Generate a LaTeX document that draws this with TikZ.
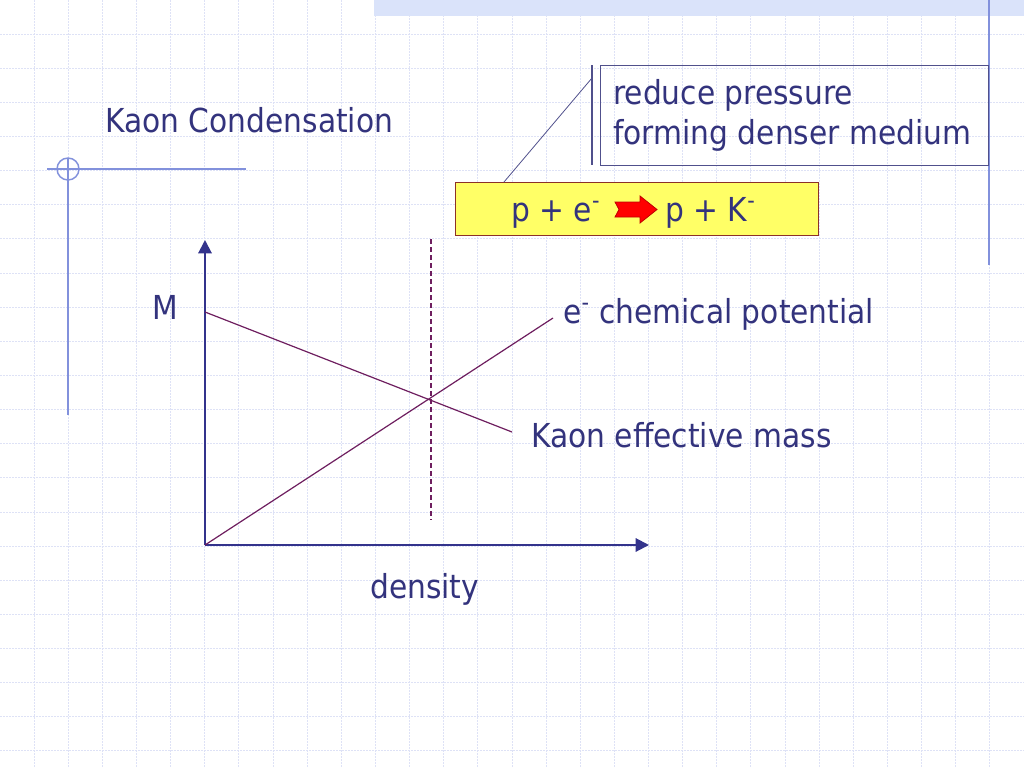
\documentclass[tikz,border=0pt]{standalone}
\usepackage{fontspec}
\setmainfont{DejaVu Sans}[FakeStretch=0.9]
\usetikzlibrary{arrows.meta}
\definecolor{txt}{RGB}{51,51,125}
\definecolor{gridc}{RGB}{222,226,246}
\definecolor{deco}{RGB}{130,145,220}
\definecolor{band}{RGB}{218,227,250}
\definecolor{axisc}{RGB}{51,51,140}
\definecolor{curve}{RGB}{110,30,95}
\definecolor{boxline}{RGB}{80,80,140}
\definecolor{ybfill}{RGB}{255,255,102}
\definecolor{ybline}{RGB}{140,50,40}
\definecolor{arrowred}{RGB}{255,0,0}
\definecolor{arrowline}{RGB}{190,0,0}
\begin{document}
\begin{tikzpicture}[x=0.75pt,y=-0.75pt,
  lbl/.style={anchor=base west,inner sep=0pt,text=txt,font=\fontsize{24.75}{30}\selectfont},
  gridline/.style={gridc,line width=0.75pt,dash pattern=on 1.5pt off 0.75pt},
  decoline/.style={deco,line width=1.1pt},
  axisline/.style={axisc,line width=1.5pt,-{Triangle[length=10pt,width=10pt]}},
  curveline/.style={curve,line width=0.9pt},
  boxstyle/.style={draw=boxline,line width=0.8pt,inner sep=0pt,anchor=north west},
  ybox/.style={draw=ybline,fill=ybfill,line width=0.8pt,inner sep=0pt,anchor=north west},
  ]
\useasboundingbox (0,0) rectangle (1024,768);
\fill[white] (0,0) rectangle (1024,768);
\foreach \k in {1,...,29} \draw[gridline] (\k*34.1333,0) -- (\k*34.1333,768);
\foreach \k in {1,...,22} \draw[gridline] (0,\k*34.1333) -- (1024,\k*34.1333);
% top band and right line
\fill[band] (374,0) rectangle (1024,16);
\draw[decoline] (989,0) -- (989,265);
% left decoration
\draw[decoline] (47,169) -- (246,169);
\draw[decoline] (68,158) -- (68,415);
\draw[decoline] (68,169) circle[radius=8.25pt];
% title
\node[lbl] (title) at (105,132) {Kaon Condensation};
% callout box
\node[boxstyle,minimum width=291pt,minimum height=75pt] (cb) at (600,65) {};
\node[lbl] (t1) at (613,104) {reduce pressure};
\node[lbl] (t2) at (613,144) {forming denser medium};
% yellow box
\node[ybox,minimum width=272.25pt,minimum height=39.75pt] (yb) at (455,182) {};
\node[lbl] (r1) at (511,221) {p + e\textsuperscript{-}};
\node[lbl] (r2) at (665,221) {p + K\textsuperscript{-}};
\draw[arrowline,fill=arrowred,line width=0.6pt,line join=miter]
  (615,202) -- (640,202) -- (640,196) -- (657,209.5) -- (640,223) -- (640,217) -- (615,217) -- (619,209.5) -- cycle;
% callout connector
\coordinate (cl1) at (592,65);
\coordinate (cl2) at (592,165);
\coordinate (ck) at (592,78);
\coordinate (cend) at (504,182);
\draw[boxline,line width=0.8pt] (cl1) -- (cl2);
\draw[boxline,line width=0.6pt] (ck) -- (cend);
% axes
\coordinate (O) at (205,545);
\coordinate (ytop) at (205,240);
\coordinate (xend) at (649,545);
\draw[axisline] (O) -- (ytop);
\draw[axisline] (O) -- (xend);
% curves
\coordinate (km0) at (205,312);
\coordinate (km1) at (512,432);
\coordinate (ep1) at (553,318);
\coordinate (d0) at (431,239);
\coordinate (d1) at (431,520);
\draw[curveline] (km0) -- (km1);
\draw[curveline] (O) -- (ep1);
\draw[curveline,dash pattern=on 4pt off 2pt] (d0) -- (d1);
% labels
\node[lbl] (M) at (152,319) {M};
\node[lbl] (ecp) at (563,323) {e\textsuperscript{-} chemical potential};
\node[lbl] (kem) at (531,447) {Kaon effective mass};
\node[lbl] (dens) at (370,598) {density};
\end{tikzpicture}
\end{document}
